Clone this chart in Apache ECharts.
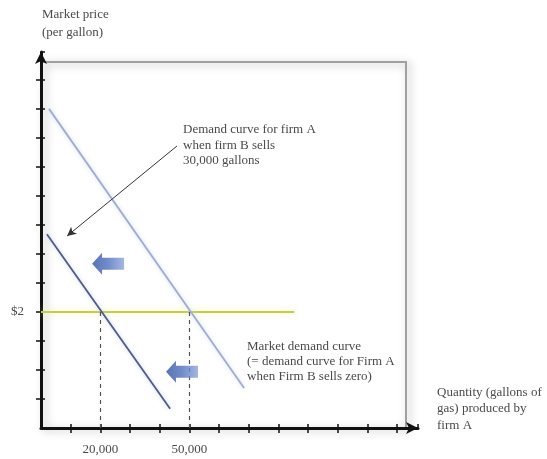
<!DOCTYPE html>
<html>
<head>
<meta charset="utf-8">
<script src="https://cdn.jsdelivr.net/npm/echarts@6/dist/echarts.min.js"></script>
<style>html,body{margin:0;padding:0;background:#fff}#c{width:547px;height:459px}</style>
</head>
<body>
<div id="c"></div>
<script>
// ---- data (quantity in thousands of gallons, price in $) ----
const marketDemand = [[2.7, 5.5], [68.4, 0.69]];     // market demand curve
const firmADemand = [[2.0, 3.34], [43.5, 0.33]];     // demand for firm A when B sells 30,000
const priceLine = [[0, 2], [85.3, 2]];               // $2 price
const eqQuantities = [20, 50];                        // dashed drop lines
const eqPrice = 2;
const shiftArrows = [[22.6, 2.83], [47.5, 0.97]];     // block arrows showing the shift
const pointer = [[45.8, 4.86], [8.8, 3.31]];          // annotation arrow
const xLabelValues = [20, 50];
const xLabelTexts = ['20,000', '50,000'];
const yLabelValues = [2];
const yLabelTexts = ['$2'];

const serif = '"Liberation Serif","DejaVu Serif",serif';
const txt = '#4a4a4a';

const chart = echarts.init(document.getElementById('c'), null, {renderer: 'canvas'});

function xFmt(v) { const i = xLabelValues.indexOf(Math.round(v)); return i >= 0 ? xLabelTexts[i] : ''; }
function yFmt(v) { const i = yLabelValues.indexOf(Math.round(v * 100) / 100); return i >= 0 ? yLabelTexts[i] : ''; }

const axisCommonX = {min: 0, max: 127, interval: 10};
const axisCommonY = {min: 0, max: 6.48, interval: 0.5};

const arrowPath = 'path://M0,11 L10,0 L10,5 L32,5 L32,17 L10,17 L10,22 Z';

chart.setOption({
  animation: false,
  backgroundColor: '#fff',
  grid: [
    {left: 41, right: 129, top: 52, bottom: 31, show: false},
    {left: 42, right: 141, top: 62, bottom: 31, show: true, borderColor: '#a0a0a0', borderWidth: 2,
     shadowBlur: 8, shadowColor: 'rgba(0,0,0,0.35)', shadowOffsetX: 3, shadowOffsetY: 2}
  ],
  xAxis: [
    Object.assign({type: 'value', gridIndex: 0, position: 'bottom',
      axisLine: {show: true, lineStyle: {color: '#111', width: 3}, symbol: ['none', 'arrow'], symbolSize: [9, 12]},
      axisTick: {show: true, length: 5, lineStyle: {color: '#111', width: 1.5}},
      axisLabel: {show: true, formatter: xFmt, margin: 15, fontFamily: serif, fontSize: 13, color: txt, showMinLabel: false, showMaxLabel: false},
      splitLine: {show: false}}, axisCommonX),
    Object.assign({type: 'value', gridIndex: 0, position: 'bottom',
      axisLine: {show: false}, axisTick: {show: true, inside: true, length: 4, lineStyle: {color: '#111', width: 1.5}},
      axisLabel: {show: false}, splitLine: {show: false}}, axisCommonX),
    {type: 'value', gridIndex: 1, show: false, min: 0, max: 1}
  ],
  yAxis: [
    Object.assign({type: 'value', gridIndex: 0, position: 'left',
      axisLine: {show: true, lineStyle: {color: '#111', width: 3}, symbol: ['none', 'arrow'], symbolSize: [9, 12]},
      axisTick: {show: true, length: 5, lineStyle: {color: '#111', width: 1.5}},
      axisLabel: {show: true, formatter: yFmt, margin: 17, fontFamily: serif, fontSize: 13, color: txt, showMinLabel: false, showMaxLabel: false},
      splitLine: {show: false}}, axisCommonY),
    Object.assign({type: 'value', gridIndex: 0, position: 'left',
      axisLine: {show: false}, axisTick: {show: true, inside: true, length: 4, lineStyle: {color: '#111', width: 1.5}},
      axisLabel: {show: false}, splitLine: {show: false}}, axisCommonY),
    {type: 'value', gridIndex: 1, show: false, min: 0, max: 1}
  ],
  series: [
    {type: 'line', xAxisIndex: 0, yAxisIndex: 0, data: priceLine, symbol: 'none', z: 3,
     lineStyle: {color: '#c2cf45', width: 2, shadowBlur: 8, shadowColor: 'rgba(235,235,140,0.9)'},
     markLine: {silent: true, symbol: ['none', 'none'], label: {show: false},
       lineStyle: {type: [4, 4], color: '#555', width: 1.2},
       data: eqQuantities.map(q => [{coord: [q, 0]}, {coord: [q, eqPrice]}])}},
    {type: 'line', xAxisIndex: 0, yAxisIndex: 0, data: marketDemand, symbol: 'none', z: 4,
     lineStyle: {color: '#9eaed2', width: 1.8, shadowBlur: 4, shadowColor: 'rgba(200,210,240,0.8)'}},
    {type: 'line', xAxisIndex: 0, yAxisIndex: 0, data: firmADemand, symbol: 'none', z: 4,
     lineStyle: {color: '#4d5c8a', width: 1.8, shadowBlur: 4, shadowColor: 'rgba(190,200,235,0.8)'}},
    {type: 'scatter', xAxisIndex: 0, yAxisIndex: 0, data: shiftArrows, symbol: arrowPath, symbolSize: [32, 22], z: 5,
     itemStyle: {color: new echarts.graphic.LinearGradient(0, 0, 1, 0, [
       {offset: 0, color: '#2f4fa0'}, {offset: 0.5, color: '#4f6fbe'}, {offset: 1, color: '#8ea5dc'}])}},
    {type: 'line', xAxisIndex: 0, yAxisIndex: 0, data: [], symbol: 'none',
     markLine: {silent: true, symbol: ['none', 'arrow'], symbolSize: [7, 9], label: {show: false},
       lineStyle: {type: 'solid', color: '#333', width: 1},
       data: [[{coord: pointer[0]}, {coord: pointer[1]}]]}}
  ],
  graphic: [
    {type: 'text', left: 42, top: 6, style: {text: 'Market price\n(per gallon)', font: '13px ' + serif, fill: txt, lineHeight: 18}},
    {type: 'text', left: 183, top: 122, style: {text: 'Demand curve for firm A\nwhen firm B sells\n30,000 gallons', font: '13px ' + serif, fill: txt, lineHeight: 15.5}},
    {type: 'text', left: 247, top: 339, style: {text: 'Market demand curve\n(= demand curve for Firm A\nwhen Firm B sells zero)', font: '13px ' + serif, fill: txt, lineHeight: 15}},
    {type: 'text', left: 437, top: 384, style: {text: 'Quantity (gallons of\ngas) produced by\nfirm A', font: '13px ' + serif, fill: txt, lineHeight: 16.5}}
  ]
});
</script>
</body>
</html>
